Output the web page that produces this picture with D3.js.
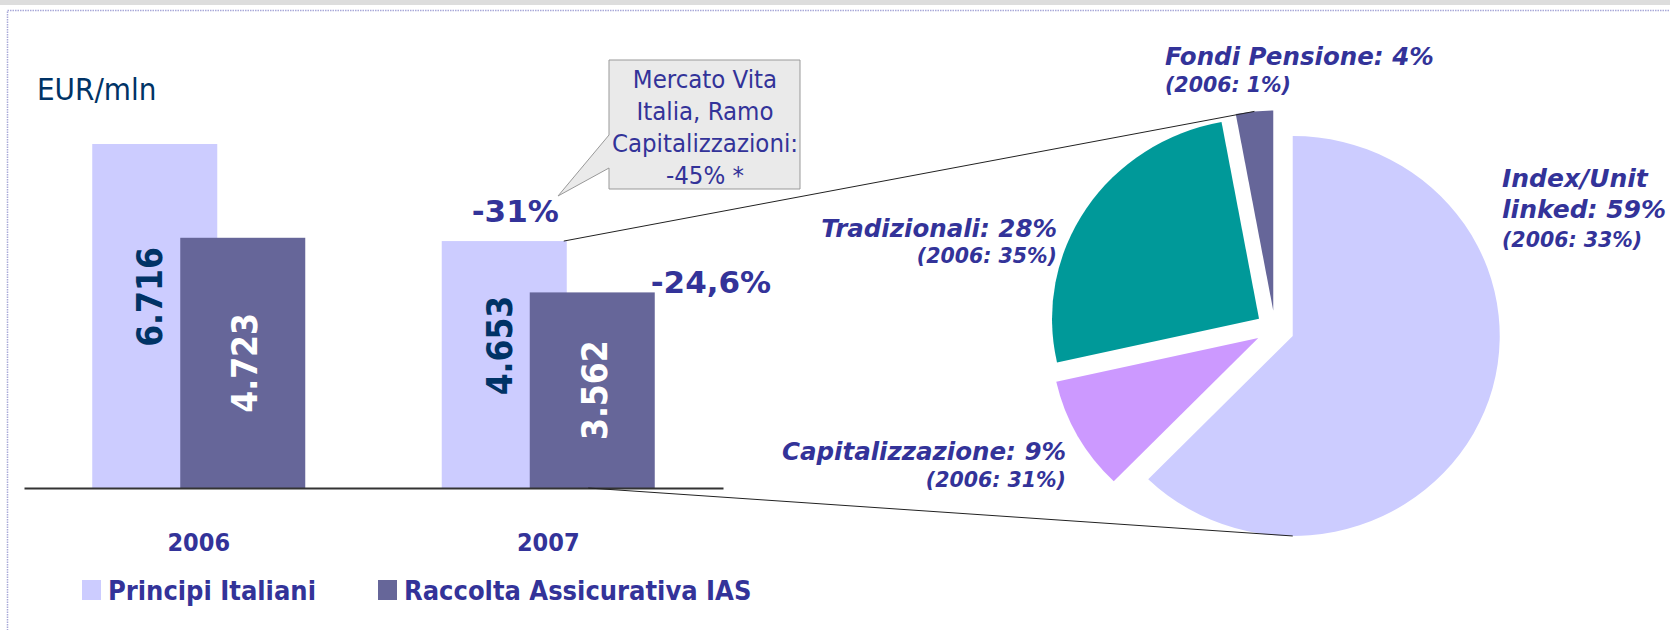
<!DOCTYPE html>
<html>
<head>
<meta charset="utf-8">
<script src="https://cdn.jsdelivr.net/npm/d3@7"></script>
<style>
  html, body { margin: 0; padding: 0; background: #ffffff; }
  svg { display: block; }
</style>
</head>
<body>
<script>
// ---------------- DATA ----------------
const years = ["2006", "2007"];
const seriesNames = ["Principi Italiani", "Raccolta Assicurativa IAS"];
const principiItaliani = [6716, 4653];
const raccoltaIAS = [4723, 3562];
const changeLabels = ["-31%", "-24,6%"];
const unitLabel = "EUR/mln";
const calloutLines = ["Mercato Vita", "Italia, Ramo", "Capitalizzazioni:", "-45% *"];

const pieCategories = ["Index/Unit linked", "Capitalizzazione", "Tradizionali", "Fondi Pensione"];
const pieShares2007 = [62.3, 9.2, 25.6, 2.9];      // slice sizes as drawn
const pieLabelShares2007 = [59, 9, 28, 4];         // percentages printed
const pieShares2006 = [33, 31, 35, 1];

// ---------------- SETUP ----------------
const W = 1670, H = 630;
const svg = d3.select("body").append("svg").attr("width", W).attr("height", H);

const TXT = "#333399";
const NAVY = "#003366";
const COND = "'DejaVu Sans Condensed', 'DejaVu Sans', sans-serif";
const SANS = "'DejaVu Sans', Verdana, sans-serif";
const seriesColors = ["#CCCCFF", "#666699"];
const pieColors = ["#CCCCFF", "#CC99FF", "#009999", "#666699"];

// page frame
svg.append("rect").attr("x", 0).attr("y", 0).attr("width", W).attr("height", 5).attr("fill", "#DDDDDD");
svg.append("rect").attr("x", 7.5).attr("y", 10.5).attr("width", W + 50).attr("height", H + 50)
  .attr("fill", "none").attr("stroke", "#A8A8D8").attr("stroke-width", 1.5).attr("stroke-dasharray", "1.5,1");

// ---------------- BARS ----------------
const baseY = 488;
const x = d3.scaleBand().domain(years).range([24, 723]).padding(0);
const sub = d3.scalePoint().domain(seriesNames).range([-44, 44]);
const y = d3.scaleLinear().domain([-595, 6716]).range([baseY, 144]);
const barW = 125;
const fmt = d3.formatLocale({ decimal: ",", thousands: ".", grouping: [3], currency: ["", "€"] }).format(",d");

const seriesData = [principiItaliani, raccoltaIAS];
const bars = [];
years.forEach((yr, i) => {
  seriesNames.forEach((s, j) => {
    const cx = x(yr) + x.bandwidth() / 2 + sub(s);
    bars.push({ year: yr, series: s, j, value: seriesData[j][i], cx });
  });
});

svg.append("g").selectAll("rect").data(bars).join("rect")
  .attr("x", d => d.cx - barW / 2)
  .attr("y", d => y(d.value))
  .attr("width", barW)
  .attr("height", d => baseY - y(d.value))
  .attr("fill", d => seriesColors[d.j]);

// value labels, rotated
svg.append("g").selectAll("text").data(bars).join("text")
  .attr("transform", d => {
    const cy = (y(d.value) + baseY) / 2;
    const tx = d.j === 0 ? d.cx - 5 : d.cx + 2;
    const ty = d.j === 0 ? cy - 19 : cy;
    return `translate(${tx},${ty}) rotate(-90)`;
  })
  .attr("text-anchor", "middle")
  .attr("dy", "0.36em")
  .attr("font-family", COND)
  .attr("font-stretch", "condensed")
  .attr("font-weight", "bold")
  .attr("font-size", 35)
  .attr("fill", d => d.j === 0 ? NAVY : "#FFFFFF")
  .text(d => fmt(d.value));

// axis (baseline + years)
const axis = svg.append("g").attr("transform", `translate(0,${baseY})`)
  .call(d3.axisBottom(x).tickSize(0).tickSizeOuter(0).tickPadding(45));
axis.select(".domain").attr("stroke", "#333333").attr("stroke-width", 2);
axis.selectAll(".tick text")
  .attr("font-family", COND).attr("font-stretch", "condensed")
  .attr("font-weight", "bold").attr("font-size", 25).attr("fill", TXT);

// unit label
svg.append("text").attr("x", 37).attr("y", 100)
  .attr("font-family", COND).attr("font-stretch", "condensed")
  .attr("font-size", 31).attr("fill", NAVY).text(unitLabel);

// change labels
const b2007 = bars.filter(d => d.year === "2007");
svg.append("text")
  .attr("x", b2007[0].cx + 11).attr("y", y(b2007[0].value) - 19)
  .attr("text-anchor", "middle")
  .attr("font-family", SANS).attr("font-weight", "bold").attr("font-size", 31).attr("fill", TXT)
  .text(changeLabels[0]);
svg.append("text")
  .attr("x", b2007[1].cx + barW / 2 - 4).attr("y", y(b2007[1].value) + 1)
  .attr("text-anchor", "start")
  .attr("font-family", SANS).attr("font-weight", "bold").attr("font-size", 31).attr("fill", TXT)
  .text(changeLabels[1]);

// callout
svg.append("path")
  .attr("d", "M609,60 H800 V189 H609 V168 L558,196 L609,135 Z")
  .attr("fill", "#EAEAEA").attr("stroke", "#999999").attr("stroke-width", 1);
svg.append("g").selectAll("text").data(calloutLines).join("text")
  .attr("x", 705).attr("y", (d, i) => 88 + i * 32)
  .attr("text-anchor", "middle")
  .attr("font-family", COND).attr("font-stretch", "condensed")
  .attr("font-size", 25.5).attr("fill", TXT)
  .text(d => d);

// legend
const leg = svg.append("g").selectAll("g").data(seriesNames).join("g")
  .attr("transform", (d, i) => `translate(${i === 0 ? 82 : 378},0)`);
leg.append("rect").attr("x", 0).attr("y", 580).attr("width", 19).attr("height", 20)
  .attr("fill", (d, i) => seriesColors[i]);
leg.append("text").attr("x", 26).attr("y", 600)
  .attr("font-family", COND).attr("font-stretch", "condensed")
  .attr("font-weight", "bold").attr("font-size", 27).attr("fill", TXT)
  .text(d => d);

// ---------------- PIE ----------------
const C = [1275, 329];
const R = 200, sx = 1.035, explode = 18.5;
const pie = d3.pie().sort(null).value(d => d)(pieShares2007);
const arc = d3.arc().innerRadius(0).outerRadius(R);
const off = a => { const m = (a.startAngle + a.endAngle) / 2; return [Math.sin(m) * explode, -Math.cos(m) * explode]; };

const pg = svg.append("g").attr("transform", `translate(${C[0]},${C[1]}) scale(${sx},1)`);
pg.selectAll("path").data(pie).join("path")
  .attr("transform", d => { const o = off(d); return `translate(${o[0]},${o[1]})`; })
  .attr("d", arc)
  .attr("fill", (d, i) => pieColors[i]);

// connector lines from bars to pie
const fondi = pie[3], index = pie[0];
const ptOn = (a, ang) => { const o = off(a); return [C[0] + sx * (o[0] + Math.sin(ang) * R), C[1] + o[1] - Math.cos(ang) * R]; };
const pTop = ptOn(fondi, (fondi.startAngle + fondi.endAngle) / 2);
const pBot = ptOn(index, Math.PI);
svg.append("line")
  .attr("x1", b2007[0].cx + barW / 2 - 3).attr("y1", y(b2007[0].value))
  .attr("x2", pTop[0]).attr("y2", pTop[1])
  .attr("stroke", "#222").attr("stroke-width", 1);
svg.append("line")
  .attr("x1", b2007[1].cx - 4).attr("y1", baseY)
  .attr("x2", pBot[0]).attr("y2", pBot[1])
  .attr("stroke", "#222").attr("stroke-width", 1);

// pie labels
const pieLabelLayout = [
  { anchor: "start", x: 1502, lines: [[187, 25], [218, 25], [247, 20.5]], split: true },
  { anchor: "end", x: 1066, lines: [[460, 24.5], [487, 20.5]] },
  { anchor: "end", x: 1057, lines: [[237, 24.5], [263, 20.5]] },
  { anchor: "start", x: 1165, lines: [[65, 24.5], [92, 20.5]] }
];
pieCategories.forEach((cat, i) => {
  const L = pieLabelLayout[i];
  let texts;
  if (L.split) {
    const parts = cat.split(" ");
    texts = [parts[0], `${parts[1]}: ${pieLabelShares2007[i]}%`, `(2006: ${pieShares2006[i]}%)`];
  } else {
    texts = [`${cat}: ${pieLabelShares2007[i]}%`, `(2006: ${pieShares2006[i]}%)`];
  }
  texts.forEach((t, k) => {
    svg.append("text")
      .attr("x", L.x).attr("y", L.lines[k][0])
      .attr("text-anchor", L.anchor)
      .attr("font-family", SANS).attr("font-weight", "bold").attr("font-style", "italic")
      .attr("font-size", L.lines[k][1]).attr("fill", TXT)
      .text(t);
  });
});
</script>
</body>
</html>
